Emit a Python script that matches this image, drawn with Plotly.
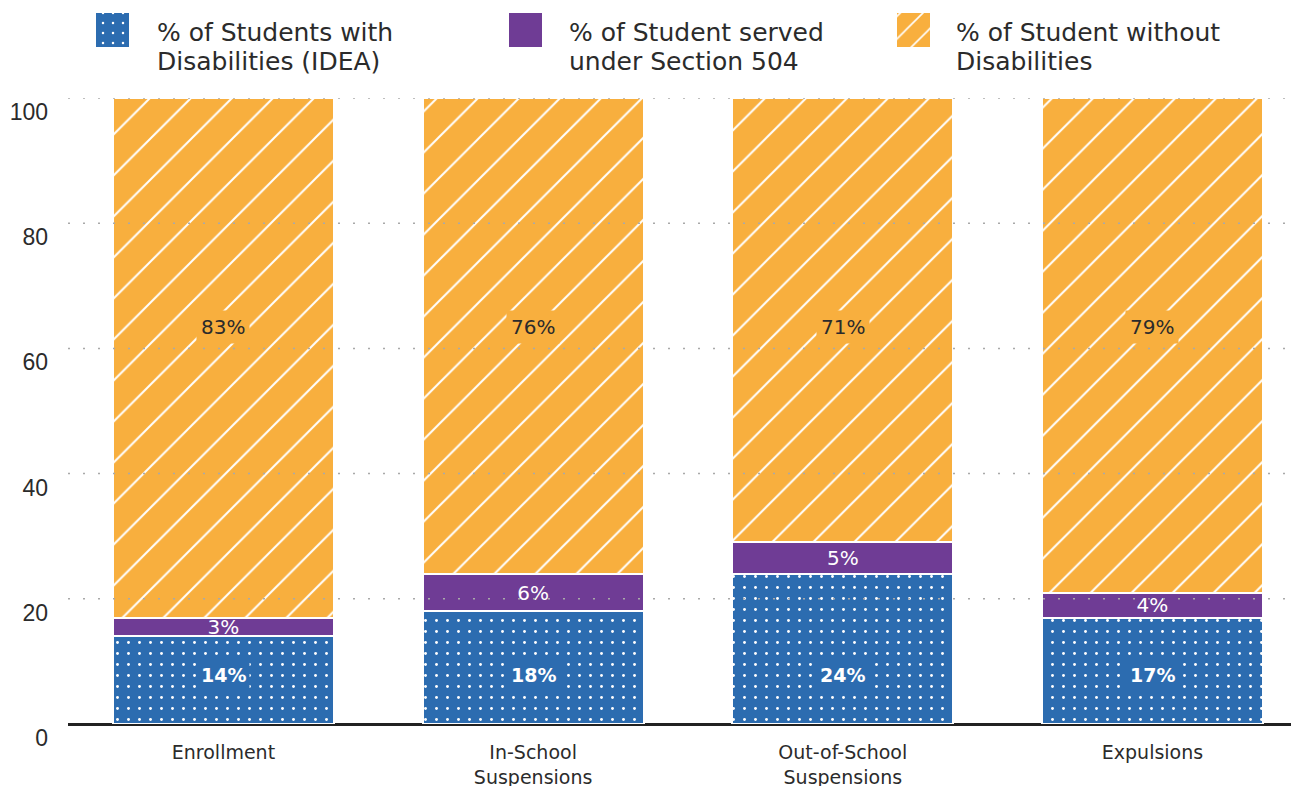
import plotly.graph_objects as go

# ---------------- data ----------------
categories = ["Enrollment", "In-School<br>Suspensions", "Out-of-School<br>Suspensions", "Expulsions"]
series_names = [
    "% of Students with<br>Disabilities (IDEA)",
    "% of Student served<br>under Section 504",
    "% of Student without<br>Disabilities",
]
idea_pct = [14, 18, 24, 17]
sec504_pct = [3, 6, 5, 4]
without_pct = [83, 76, 71, 79]
y_ticks = [0, 20, 40, 60, 80, 100]

# ---------------- style ----------------
BLUE = "#2C6CB0"
PURPLE = "#6F3C95"
ORANGE = "#F8AF3E"
TEXT = "#2b2b2b"
FONT = "DejaVu Sans"
W, H = 1299, 786
OFF = 8                      # page body margin
ML = 68 - OFF                # plot left edge at 68 on screen
ZERO_Y = 724 - OFF           # zero line on screen at 724
TOP_Y = 98 - OFF             # 100 line on screen at 98
MB = H - ZERO_Y
PLOT_H = ZERO_Y
Y_TOP_DOMAIN = (PLOT_H - TOP_Y) / PLOT_H
LEG_DOMAIN = 0.88

xpos = list(range(len(categories)))
bar_w = 0.714

fig = go.Figure()

fig.add_trace(go.Bar(
    x=xpos, y=idea_pct, width=bar_w, name=series_names[0],
    marker=dict(color=BLUE, line=dict(color="white", width=2),
                pattern=dict(shape=".", fgcolor="white", bgcolor=BLUE, size=11, solidity=0.055,
                             fillmode="replace")),
    hoverinfo="skip", showlegend=False,
))
fig.add_trace(go.Bar(
    x=xpos, y=sec504_pct, width=bar_w, name=series_names[1],
    marker=dict(color=PURPLE, line=dict(color="white", width=2)),
    text=[f"{v}%" for v in sec504_pct], textposition="inside", insidetextanchor="middle",
    textangle=0, textfont=dict(color="white", size=20, family=FONT),
    constraintext="none",
    hoverinfo="skip", showlegend=False,
))
fig.add_trace(go.Bar(
    x=xpos, y=without_pct, width=bar_w, name=series_names[2],
    marker=dict(color=ORANGE, line=dict(color="white", width=2),
                pattern=dict(shape="/", fgcolor="white", bgcolor=ORANGE, size=29, solidity=0.07,
                             fillmode="replace")),
    hoverinfo="skip", showlegend=False,
))

# fixed-height labels for the blue and orange segments
for i, v in enumerate(idea_pct):
    fig.add_annotation(x=xpos[i], y=7.8, xref="x", yref="y", text=f"<b>{v}%</b>",
                       showarrow=False, bgcolor=BLUE, borderpad=3,
                       font=dict(color="white", size=19, family=FONT))
for i, v in enumerate(without_pct):
    fig.add_annotation(x=xpos[i], y=63.4, xref="x", yref="y", text=f"{v}%",
                       showarrow=False, bgcolor=ORANGE, borderpad=4,
                       font=dict(color=TEXT, size=20, family=FONT))

# dotted gridlines drawn above the bars
for t in y_ticks[1:]:
    fig.add_shape(type="line", xref="paper", yref="y", x0=0, x1=0.986, y0=t, y1=t,
                  line=dict(color="#a9a9a9", width=1.5, dash="2px,13px"), layer="above")

# ---------------- custom legend (screen pixel coordinates) ----------------
leg_x = [112, 525.5, 913]   # square centres
leg_text_x = [155, 567, 954]
leg_colors = [BLUE, PURPLE, ORANGE]
leg_shapes = [".", "", "/"]
leg_sizes = [10, 10, 16]
leg_solid = [0.05, 0.1, 0.1]
for lx, c, shp, sz, so in zip(leg_x, leg_colors, leg_shapes, leg_sizes, leg_solid):
    fig.add_trace(go.Bar(
        x=[lx], y=[-34], base=[47], width=33, xaxis="x2", yaxis="y2",
        marker=dict(color=c, line=dict(width=0),
                    pattern=dict(shape=shp, fgcolor="white", bgcolor=c, size=sz, solidity=so,
                                 fillmode="replace")),
        hoverinfo="skip", showlegend=False,
    ))
for tx, name in zip(leg_text_x, series_names):
    l1, l2 = name.split("<br>")
    for ty, line in ((32, l1), (61, l2)):
        fig.add_annotation(x=tx, y=ty, xref="x2", yref="y2", text=line, showarrow=False,
                           xanchor="left", yanchor="middle", align="left",
                           font=dict(color=TEXT, size=25, family=FONT))

fig.update_layout(
    width=W, height=H,
    margin=dict(l=ML, r=0, t=0, b=MB, autoexpand=False),
    barmode="stack",
    plot_bgcolor="white", paper_bgcolor="white",
    font=dict(family=FONT, color=TEXT),
    showlegend=False,
    xaxis=dict(
        domain=[0, 1], range=[-0.502, 3.499], automargin=False,
        tickmode="array", tickvals=xpos, ticktext=categories,
        tickfont=dict(size=19, family=FONT, color=TEXT),
        showgrid=False, zeroline=False, ticks="", ticklabelstandoff=15,
        showline=False, fixedrange=True,
    ),
    yaxis=dict(
        domain=[0, Y_TOP_DOMAIN], range=[0, 100], automargin=False,
        tickmode="array", tickvals=y_ticks, ticktext=[str(t) for t in y_ticks],
        tickfont=dict(size=23, family="Liberation Sans", color=TEXT),
        showgrid=False, zeroline=True, zerolinecolor="#222222", zerolinewidth=3,
        ticks="", ticklabelstandoff=19, ticklabelshift=14, showline=False,
    ),
    xaxis2=dict(domain=[0, 1], range=[ML + OFF, W + OFF], anchor="y2", visible=False,
                automargin=False),
    yaxis2=dict(domain=[LEG_DOMAIN, 1], range=[PLOT_H * (1 - LEG_DOMAIN) + OFF, OFF], anchor="x2",
                visible=False, automargin=False),
)

fig.write_html("out.html")
